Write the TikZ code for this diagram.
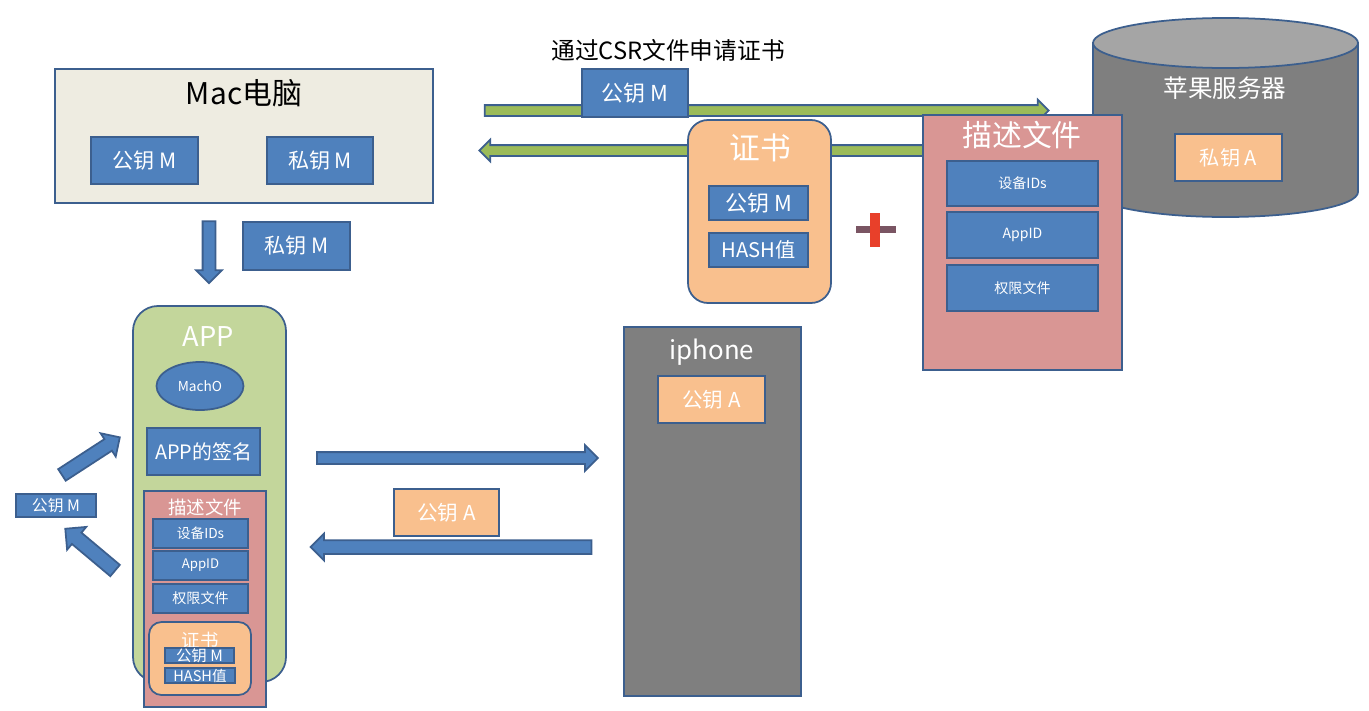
\documentclass[tikz,border=0pt]{standalone}
\usepackage{fontspec}
\setmainfont{Noto Sans CJK SC}
\usetikzlibrary{shapes.geometric,shapes.arrows}
\definecolor{keyblue}{HTML}{4F81BD}
\definecolor{edgeblue}{HTML}{3C5F8E}
\definecolor{certorange}{HTML}{F9C08E}
\definecolor{macbg}{HTML}{EEECE1}
\definecolor{appgreen}{HTML}{C3D69B}
\definecolor{arrowgreen}{HTML}{9BBB59}
\definecolor{profpink}{HTML}{D99694}
\definecolor{devgray}{HTML}{7F7F7F}
\definecolor{topgray}{HTML}{A5A5A5}
\definecolor{plusred}{HTML}{E8402A}
\definecolor{plusdark}{HTML}{7A5563}
\tikzset{
  fs/.style={font=\fontsize{#1}{#1}\selectfont},
  keybox/.style={draw=edgeblue, fill=keyblue, text=white},
  orangebox/.style={draw=edgeblue, fill=certorange, text=white},
  blockarrow/.style={single arrow, draw=edgeblue, fill=keyblue, inner xsep=0pt, single arrow head indent=0pt},
}
\begin{document}
\begin{tikzpicture}[x=0.02cm,y=-0.02cm,line width=1pt]
\fill[white] (0,0) rectangle (1369,710);
\useasboundingbox (0,0) rectangle (1369,710);

% Mac
\draw[draw=edgeblue, fill=macbg] (55,69) rectangle (433,203);
\node[fs=17] (mac) at (244,93) {Mac电脑};
\draw[keybox] (91,137) rectangle node[fs=12] (macPub) {公钥 M} (198,184);
\draw[keybox] (267,137) rectangle node[fs=12] (macPriv) {私钥 M} (373,184);
\node[blockarrow, minimum height=12.4mm, inner ysep=1.1mm, single arrow head extend=1.3mm, rotate=-90] (downArr) at (209,249) {};
\draw[keybox] (243,222) rectangle node[fs=12] (privMove) {私钥 M} (350,270);

% CSR -> server
\node[blockarrow, fill=arrowgreen, minimum height=112.8mm, inner ysep=0.9mm, single arrow head extend=1.1mm] (csrArr) at (764,110.5) {};
\node[blockarrow, fill=arrowgreen, minimum height=89.6mm, inner ysep=0.9mm, single arrow head extend=1.1mm, rotate=180] (certArr) at (706,150.5) {};
\node[fs=13.5] (csr) at (668,50) {通过CSR文件申请证书};
\draw[keybox] (582,69) rectangle node[fs=12.5] (csrPub) {公钥 M} (688,117);

% server
\draw[draw=edgeblue, fill=devgray] (1093,43) -- (1093,192) .. controls (1093,205.8) and (1152.3,217) .. (1225.5,217)
  .. controls (1298.7,217) and (1358,205.8) .. (1358,192) -- (1358,43) -- cycle;
\draw[draw=edgeblue, fill=topgray] (1225.5,43) ellipse [x radius=132.5, y radius=25];
\node[fs=14, text=white] (server) at (1225,88) {苹果服务器};
\draw[orangebox] (1175,134) rectangle node[fs=11.5] (serverPriv) {私钥 A} (1282,181);

% profile
\draw[draw=edgeblue, fill=profpink] (923,115) rectangle (1122,370);
\node[fs=17, text=white] (prof) at (1022,135) {描述文件};
\draw[keybox] (947,161) rectangle node[fs=8] (profDev) {设备IDs} (1098,206);
\draw[keybox] (947,212) rectangle node[fs=8] (profId) {AppID} (1098,258);
\draw[keybox] (947,265) rectangle node[fs=8] (profPerm) {权限文件} (1098,311);

% cert
\draw[orangebox, rounded corners=4mm] (688,120) rectangle (831,303);
\node[fs=17.5, text=white] (cert) at (760,148) {证书};
\draw[keybox] (709,186) rectangle node[fs=12.5] (certPub) {公钥 M} (808,220);
\draw[keybox] (709,233) rectangle node[fs=11.5] (certHash) {HASH值} (808,267);
\fill[plusdark] (856,226) rectangle (896,233);
\fill[plusred] (870,213) rectangle (880,247);

% APP
\draw[draw=edgeblue, fill=appgreen, rounded corners=5mm] (133,306) rectangle (286,682);
\node[fs=15.5, text=white] (app) at (208,337) {APP};
\node[ellipse, draw=edgeblue, fill=keyblue, text=white, minimum width=17.4mm, minimum height=9.6mm, inner sep=0pt, fs=7.8] (macho) at (200,386) {MachO};
\draw[keybox] (147,428) rectangle node[fs=11.3] (appSign) {APP的签名} (260,475);
\draw[draw=edgeblue, fill=profpink] (144,491) rectangle (266,707);
\node[fs=10.5, text=white] (appProf) at (205,507) {描述文件};
\draw[keybox] (153,519) rectangle node[fs=7.8] (appDev) {设备IDs} (248,548);
\draw[keybox] (153,551) rectangle node[fs=7.5] (appId) {AppID} (248,580);
\draw[keybox] (153,584) rectangle node[fs=8] (appPerm) {权限文件} (248,613);
\draw[orangebox, rounded corners=2.5mm] (149,622) rectangle (251,695);
\node[fs=10.5, text=white] (appCert) at (200,640) {证书};
\draw[keybox] (165,648) rectangle node[fs=8.8] (appCertPub) {公钥 M} (234,663);
\draw[keybox] (165,668) rectangle node[fs=8.3] (appCertHash) {HASH值} (235,683);

% verify
\draw[keybox] (16,494) rectangle node[fs=9] (leftPub) {公钥 M} (96,517);
\node[blockarrow, minimum height=13.8mm, inner ysep=1.2mm, single arrow head extend=1.4mm, rotate=33] (toApp) at (88,458) {};
\node[blockarrow, minimum height=13mm, inner ysep=1.3mm, single arrow head extend=1.5mm, rotate=140] (fromApp) at (93,552) {};

% iphone
\draw[draw=edgeblue, fill=devgray] (624,327) rectangle (801,696);
\node[fs=14.7, text=white] (iphone) at (712,352) {iphone};
\draw[orangebox] (658,376) rectangle node[fs=11.7] (phonePub) {公钥 A} (765,423);
\node[blockarrow, minimum height=56.2mm, inner ysep=1mm, single arrow head extend=1.4mm] (installArr) at (454.5,458) {};
\node[blockarrow, minimum height=56.2mm, inner ysep=1.2mm, single arrow head extend=1.3mm, rotate=180] (pubArr) at (454.5,547) {};
\draw[orangebox] (394,489) rectangle node[fs=11.7] (backPub) {公钥 A} (499,536);
\end{tikzpicture}
\end{document}
